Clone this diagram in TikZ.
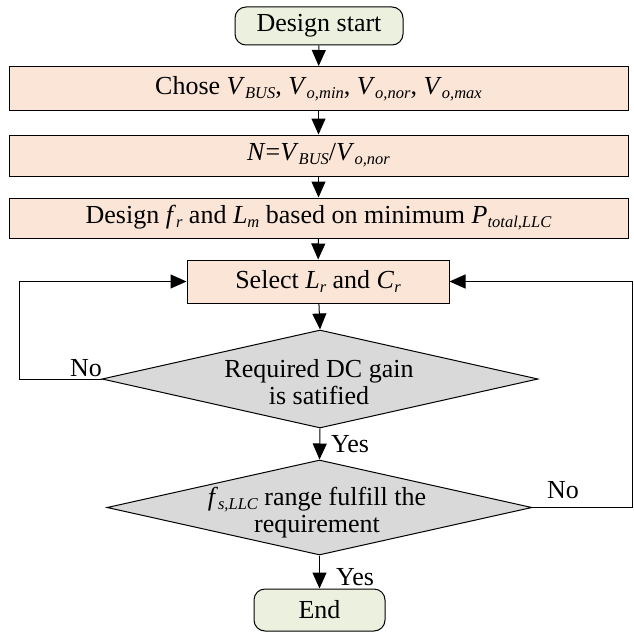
\documentclass[tikz,border=0pt]{standalone}
\usepackage{fontspec}
\setmainfont{Liberation Serif}
\newfontfamily\tms{Liberation Serif}
\usetikzlibrary{shapes.geometric,arrows.meta}
\definecolor{peach}{HTML}{FBE5D6}
\definecolor{termgreen}{HTML}{EBF1DE}
\definecolor{decgray}{HTML}{D9D9D9}
\newcommand\vsub[2]{\textit{#1}\raisebox{-4pt}{\fontsize{16.5}{16.5}\selectfont\itshape #2}}
\tikzset{
  base/.style={draw=black, line width=1pt, inner sep=0pt, font=\tms\fontsize{26}{27}\selectfont},
  term/.style={base, rectangle, rounded corners=11pt, fill=termgreen},
  proc/.style={base, rectangle, fill=peach},
  dec/.style={draw=black, line width=1pt, diamond, inner sep=0pt, fill=decgray},
  dectext/.style={align=center, inner sep=0pt, font=\tms\fontsize{26}{27}\selectfont},
  lbl/.style={inner sep=0pt, font=\tms\fontsize{26}{27}\selectfont},
  arr/.style={line width=1pt, -{Triangle[length=16pt,width=14pt]}}
}
\begin{document}
\begin{tikzpicture}[x=1pt,y=-1pt]
\useasboundingbox (0,0) rectangle (633,634);
\node[term, minimum width=168pt, minimum height=38pt] (start) at (319,26) {Design start};
\node[proc, minimum width=619pt, minimum height=44pt] (chose) at (318.5,88.5) {Chose \vsub{V}{BUS}, \vsub{V}{o,min}, \vsub{V}{o,nor}, \vsub{V}{o,max}};
\node[proc, minimum width=619pt, minimum height=41pt] (ratio) at (318.5,155.5) {\textit{N}=\vsub{V}{BUS}/\vsub{V}{o,nor}};
\node[proc, minimum width=619pt, minimum height=40pt] (des) at (318.5,218) {Design \vsub{f}{r} and \vsub{L}{m} based on minimum \vsub{P}{total,LLC}};
\node[proc, minimum width=262pt, minimum height=43pt] (sel) at (318,281.5) {Select \vsub{L}{r} and \vsub{C}{r}};
\node[dec, minimum width=436pt, minimum height=98pt] (d1) at (320,379) {};
\node[dectext] (d1t) at (319,382) {Required DC gain\\is satified};
\node[dec, minimum width=425pt, minimum height=95pt] (d2) at (319.5,507.5) {};
\node[dectext] (d2t) at (317,513) {\vsub{f}{s,LLC} range fulfill the\\requirement};
\node[term, minimum width=131pt, minimum height=42pt] (end) at (319.5,610) {End};
\draw[arr] (start) -- (chose);
\draw[arr] (chose) -- (ratio);
\draw[arr] (ratio) -- (des);
\draw[arr] (des) -- (sel);
\draw[arr] (sel) -- (d1.north);
\draw[arr] (d1.south) -- (d2.north);
\draw[arr] (d2.south) -- (end);
\draw[arr] (d1.west) -- ++(-82,0) |- (sel.west);
\draw[arr] (d2.east) -- ++(100,0) |- (sel.east);
\node[lbl, anchor=base west] (no1) at (70,376) {No};
\node[lbl, anchor=base west] (no2) at (547,498) {No};
\node[lbl, anchor=base west] (yes1) at (331,452) {Yes};
\node[lbl, anchor=base west] (yes2) at (336,585) {Yes};
\end{tikzpicture}
\end{document}
